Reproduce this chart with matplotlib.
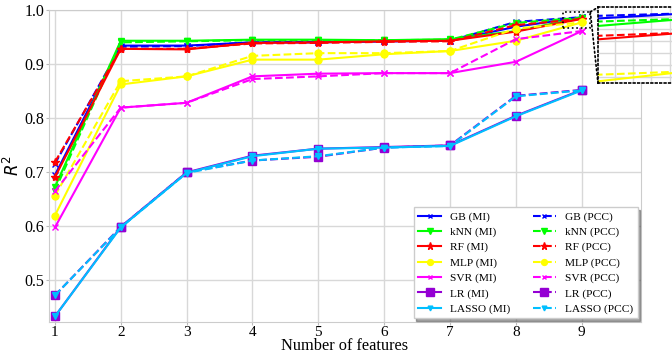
import numpy as np
import matplotlib
matplotlib.use("Agg")
import matplotlib.pyplot as plt
from matplotlib.patches import Rectangle, ConnectionPatch
from matplotlib.ticker import MultipleLocator

plt.rcParams['font.family'] = ['Liberation Serif', 'DejaVu Serif']
plt.rcParams['mathtext.fontset'] = 'dejavusans'

# number of selected features
n_feat = [1, 2, 3, 4, 5, 6, 7, 8, 9]

# R^2 values, feature ranking by mutual information (MI) and Pearson correlation (PCC)
gb_mi = [0.694, 0.934, 0.934, 0.940, 0.940, 0.942, 0.943, 0.969, 0.9867]
gb_pcc = [0.715, 0.932, 0.933, 0.940, 0.941, 0.942, 0.943, 0.978, 0.9867]
knn_mi = [0.672, 0.943, 0.943, 0.945, 0.945, 0.944, 0.946, 0.961, 0.9858]
knn_pcc = [0.665, 0.940, 0.942, 0.944, 0.944, 0.944, 0.945, 0.976, 0.9858]
rf_mi = [0.690, 0.928, 0.927, 0.939, 0.940, 0.942, 0.943, 0.960, 0.9835]
rf_pcc = [0.718, 0.928, 0.928, 0.938, 0.939, 0.941, 0.942, 0.972, 0.9835]
mlp_mi = [0.619, 0.862, 0.877, 0.908, 0.908, 0.918, 0.924, 0.943, 0.977]
mlp_pcc = [0.656, 0.868, 0.877, 0.915, 0.920, 0.920, 0.924, 0.9655, 0.977]
svr_mi = [0.597, 0.819, 0.828, 0.877, 0.882, 0.883, 0.883, 0.904, 0.961]
svr_pcc = [0.664, 0.819, 0.828, 0.872, 0.877, 0.883, 0.883, 0.946, 0.961]
lr_mi = [0.432, 0.598, 0.699, 0.730, 0.743, 0.746, 0.749, 0.804, 0.852]
lr_pcc = [0.471, 0.598, 0.699, 0.721, 0.728, 0.745, 0.749, 0.841, 0.852]
lasso_mi = [0.432, 0.597, 0.698, 0.729, 0.743, 0.745, 0.748, 0.803, 0.851]
lasso_pcc = [0.471, 0.597, 0.698, 0.721, 0.729, 0.745, 0.748, 0.840, 0.851]

models = [
    ("GB", gb_mi, gb_pcc, "#0000ff", "x", 4),
    ("kNN", knn_mi, knn_pcc, "#00ff00", "v", 5),
    ("RF", rf_mi, rf_pcc, "#ff0000", "*", 6),
    ("MLP", mlp_mi, mlp_pcc, "#ffff00", "o", 5),
    ("SVR", svr_mi, svr_pcc, "#ff00ff", "x", 4),
    ("LR", lr_mi, lr_pcc, "#9400d3", "s", 6),
    ("LASSO", lasso_mi, lasso_pcc, "#00bfff", "v", 4),
]

fig = plt.figure(figsize=(6.72, 3.56), dpi=100)
ax = fig.add_axes([0.0729, 0.0960, 0.8810, 0.8759])

# inset, partly outside the figure like the original
axin = fig.add_axes([598 / 672, 1 - 83.3 / 356, 90 / 672, 76 / 356])

mi_handles, pcc_handles = [], []
for name, mi, pcc, col, mk, ms in models:
    h1, = ax.plot(n_feat, mi, color=col, marker=mk, ms=ms, lw=1.5, ls='-',
                  label=name + " (MI)")
    h2, = ax.plot(n_feat, pcc, color=col, marker=mk, ms=ms, lw=1.5, ls='--',
                  label=name + " (PCC)")
    mi_handles.append(h1)
    pcc_handles.append(h2)
    axin.plot(n_feat, mi, color=col, lw=1.5, ls='-')
    axin.plot(n_feat, pcc, color=col, lw=1.5, ls='--')

ax.set_xlim(0.91, 9.9)
ax.set_ylim(0.422, 1.0)
ax.set_xticks(n_feat)
ax.set_yticks([0.5, 0.6, 0.7, 0.8, 0.9, 1.0])
ax.tick_params(labelsize=11.5, length=2, pad=1.5, color='#bbbbbb')
ax.tick_params(axis='x', labelsize=11, pad=1)
ax.grid(True, color='#d8d8d8', lw=1)
for s in ax.spines.values():
    s.set_color('#cccccc')
ax.set_xlabel("Number of features", fontsize=11.8, labelpad=-0.5)
ax.set_ylabel("$R^2$", fontsize=12, labelpad=1)

ax.legend(mi_handles + pcc_handles, [h.get_label() for h in mi_handles + pcc_handles],
          loc='lower right', ncol=2, fontsize=8.2, shadow=True, framealpha=1,
          edgecolor='#cccccc', fancybox=False, labelspacing=0.45,
          borderaxespad=0.3, columnspacing=2.0, markerscale=0.85)

# zoom inset
axin.set_xlim(8.951, 9.0)
axin.set_ylim(0.975, 0.9877)
axin.xaxis.set_major_locator(MultipleLocator(0.01))
axin.yaxis.set_major_locator(MultipleLocator(0.002))
axin.tick_params(labelleft=False, labelbottom=False, length=0)
axin.grid(True, color='#d8d8d8', lw=1)
for s in axin.spines.values():
    s.set_linestyle(':')
    s.set_color('black')
    s.set_linewidth(1.2)

rx0, rx1, ry0, ry1 = 8.72, 9.13, 0.967, 0.9965
ax.add_patch(Rectangle((rx0, ry0), rx1 - rx0, ry1 - ry0, fill=False,
                       ls=':', lw=1.2, ec='black', zorder=5))
for corner in [(0, 1), (0, 0)]:
    con = ConnectionPatch(xyA=(rx1, ry1), coordsA=ax.transData,
                          xyB=corner, coordsB=axin.transAxes,
                          ls=':', lw=1.2, color='black')
    fig.add_artist(con)

fig.savefig("out.png", dpi=100)
